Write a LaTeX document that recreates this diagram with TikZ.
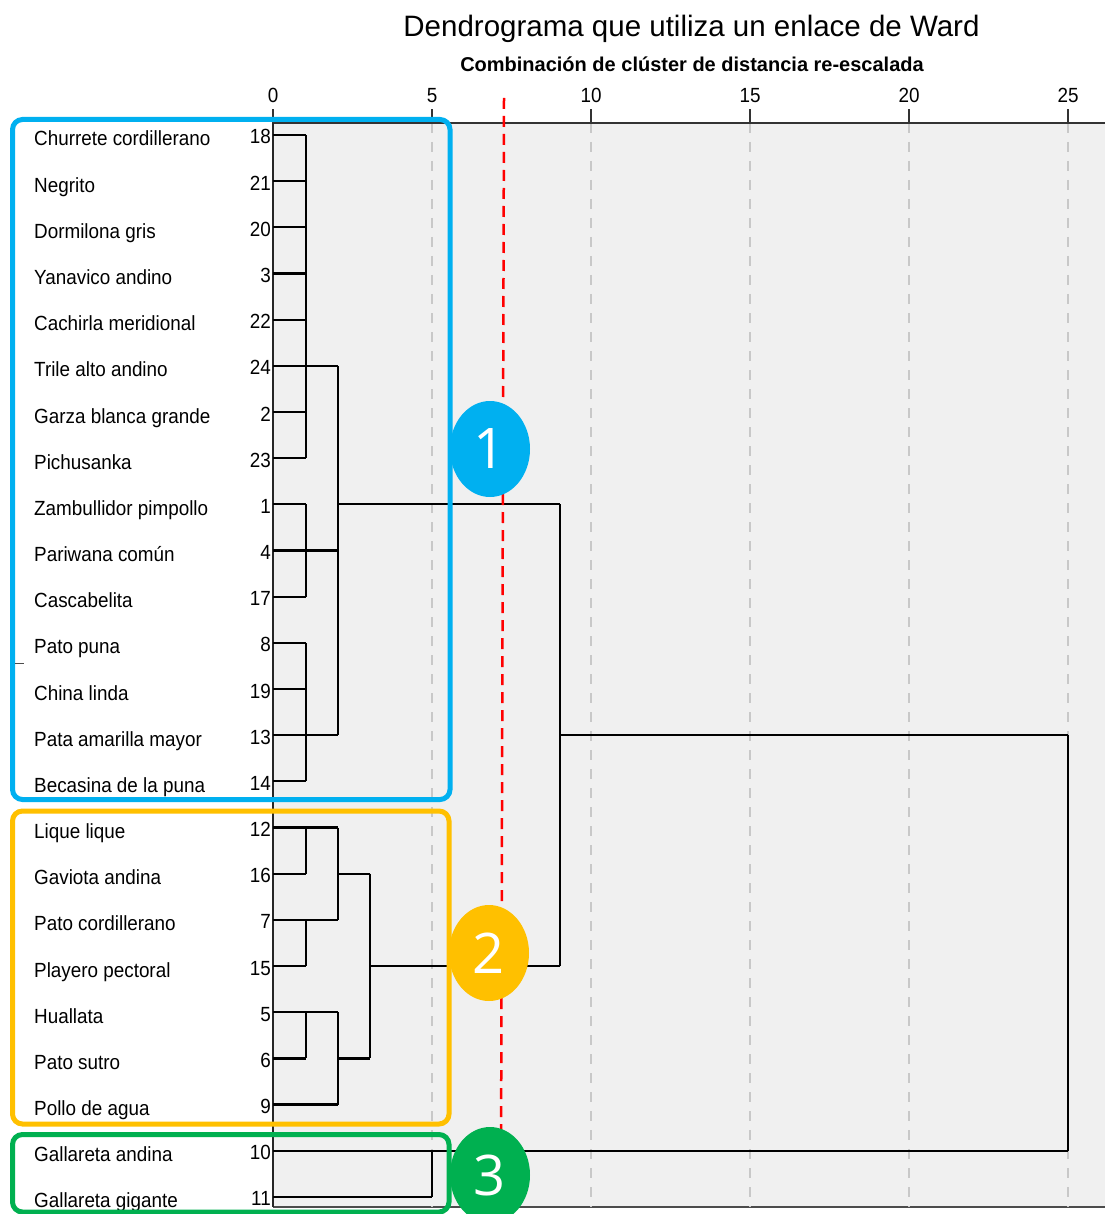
\documentclass[tikz,border=0pt]{standalone}
\usepackage{fontspec}
\setmainfont{Liberation Sans}
\newfontfamily\namefont[FakeStretch=0.92]{Liberation Sans}
\newfontfamily\badgefont{Open Sans}
\usepackage{tikz}
\usetikzlibrary{calc, shapes.geometric}
\definecolor{clusterblue}{HTML}{00B0F0}
\definecolor{clusteryellow}{HTML}{FFC000}
\definecolor{clustergreen}{HTML}{00B050}
\definecolor{plotgray}{HTML}{F0F0F0}
\definecolor{gridgray}{HTML}{C8C8C8}

\begin{document}
\begin{tikzpicture}[x=1pt, y=-1pt,
  link/.style={line width=2.2pt, black},
  gridline/.style={line width=1.6pt, gridgray, dash pattern=on 10pt off 9pt},
  casename/.style={anchor=base west, inner sep=0pt, font=\namefont\fontsize{20.5}{24}\selectfont},
  casenum/.style={anchor=base east, inner sep=0pt, font=\namefont\fontsize{20.5}{24}\selectfont},
  ticklabel/.style={anchor=base, inner sep=0pt, font=\namefont\fontsize{20.5}{24}\selectfont},
  groupbox/.style={line width=5pt, rounded corners=10pt},
  badge/.style={ellipse, minimum width=80pt, minimum height=96pt, inner sep=0pt,
    text=white, font=\badgefont\fontsize{56}{60}\selectfont}]
  \useasboundingbox (0,0) rectangle (1105,1214);
  \clip (0,0) rectangle (1105,1214);
  \fill[white] (0,0) rectangle (1105,1214);

  % Titles
  \node[anchor=base, inner sep=0pt, font=\fontsize{29.5}{34}\selectfont] (title) at (691.5,37)
    {Dendrograma que utiliza un enlace de Ward};
  \node[anchor=base, inner sep=0pt, font=\bfseries\fontsize{20}{24}\selectfont] (subtitle) at (692,72)
    {Combinación de clúster de distancia re-escalada};

  % Plot area
  \fill[plotgray] (273,123) rectangle (1105,1207);
  \draw[line width=2pt, black!70] (273,1207) -- (1105,1207);

  % Axis, ticks and grid
  \foreach \v in {0,5,...,25} {
    \coordinate (tick\v) at ({273+31.8*\v},123);
    \draw[line width=2pt, black!80] (tick\v) -- ++(0,-14);
    \node[ticklabel] (tlab\v) at ($(tick\v)+(0,-20)$) {\v};
  }
  \foreach \v in {5,10,...,25}
    \draw[gridline] (tick\v) -- ++(0,1084);
  \draw[line width=2.5pt, black!80] (tick0) -- (1105,123);
  \draw[line width=2pt, black!85] (tick0) -- ++(0,1084);

  % Cases
  \foreach \nm/\num [count=\i from 0] in {Churrete cordillerano/18, Negrito/21,
      Dormilona gris/20, Yanavico andino/3, Cachirla meridional/22,
      Trile alto andino/24, Garza blanca grande/2, Pichusanka/23,
      Zambullidor pimpollo/1, Pariwana común/4, Cascabelita/17, Pato puna/8,
      China linda/19, Pata amarilla mayor/13, Becasina de la puna/14,
      Lique lique/12, Gaviota andina/16, Pato cordillerano/7,
      Playero pectoral/15, Huallata/5, Pato sutro/6, Pollo de agua/9,
      Gallareta andina/10, Gallareta gigante/11} {
    \coordinate (L\i) at (273,{135+46.17*\i});
    \node[casename] (name\i) at (34,{146+46.17*\i}) {\nm};
    \node[casenum] (num\i) at (271,{144+46.17*\i}) {\num};
  }

  % Merge levels
  \coordinate (m1) at (306,0);
  \coordinate (m2) at (338,0);
  \coordinate (m3) at (370,0);
  \coordinate (m4) at (432,0);
  \coordinate (m5) at (560,0);
  \coordinate (m6) at (1068,0);

  % First merges
  \foreach \i in {0,...,20}
    \draw[link] (L\i) -- (L\i -| m1);
  \draw[link] (L21) -- (L21 -| m2);
  \foreach \i in {22,23}
    \draw[link] (L\i) -- (L\i -| m4);
  \draw[link] (L0 -| m1) -- (L7 -| m1);
  \draw[link] (L8 -| m1) -- (L10 -| m1);
  \draw[link] (L11 -| m1) -- (L14 -| m1);
  \draw[link] (L15 -| m1) -- (L16 -| m1);
  \draw[link] (L17 -| m1) -- (L18 -| m1);
  \draw[link] (L19 -| m1) -- (L20 -| m1);
  \draw[link] (L22 -| m4) -- (L23 -| m4);
  \foreach \i in {5,9,13,15,17,19}
    \draw[link] (L\i -| m1) -- (L\i -| m2);

  % Second merges
  \draw[link] (L5 -| m2) -- (L13 -| m2);
  \draw[link] (L8 -| m2) -- (L8 -| m5);
  \draw[link] (L15 -| m2) -- (L17 -| m2);
  \draw[link] (L16 -| m2) -- (L16 -| m3);
  \draw[link] (L19 -| m2) -- (L21 -| m2);
  \draw[link] (L20 -| m2) -- (L20 -| m3);
  \draw[link] (L16 -| m3) -- (L20 -| m3);
  \draw[link] (L18 -| m3) -- (L18 -| m5);

  % Top merges
  \draw[link] (L8 -| m5) -- (L18 -| m5);
  \draw[link] (L13 -| m5) -- (L13 -| m6);
  \draw[link] (L22 -| m4) -- (L22 -| m6);
  \draw[link] (L13 -| m6) -- (L22 -| m6);

  % Cut line
  \coordinate (cutA) at (504,98);
  \coordinate (cutB) at (501,1165);
  \draw[red, line width=2.5pt, dash pattern=on 11pt off 7pt] (cutA) -- (cutB);

  % Groups
  \draw[groupbox, clusterblue] (12.5,119.5) rectangle (450,799.5);
  \draw[groupbox, clusteryellow] (12.5,811) rectangle (449,1124);
  \draw[groupbox, clustergreen] (12.5,1134.5) rectangle (449,1212);
  \draw[black!70, line width=1pt] (15,663) -- (24,663);

  \node[badge, fill=clusterblue] (g1) at (490,449) {1};
  \node[badge, fill=clusteryellow] (g2) at (489,953) {2};
  \node[badge, fill=clustergreen] (g3) at (490,1175) {3};
\end{tikzpicture}
\end{document}
